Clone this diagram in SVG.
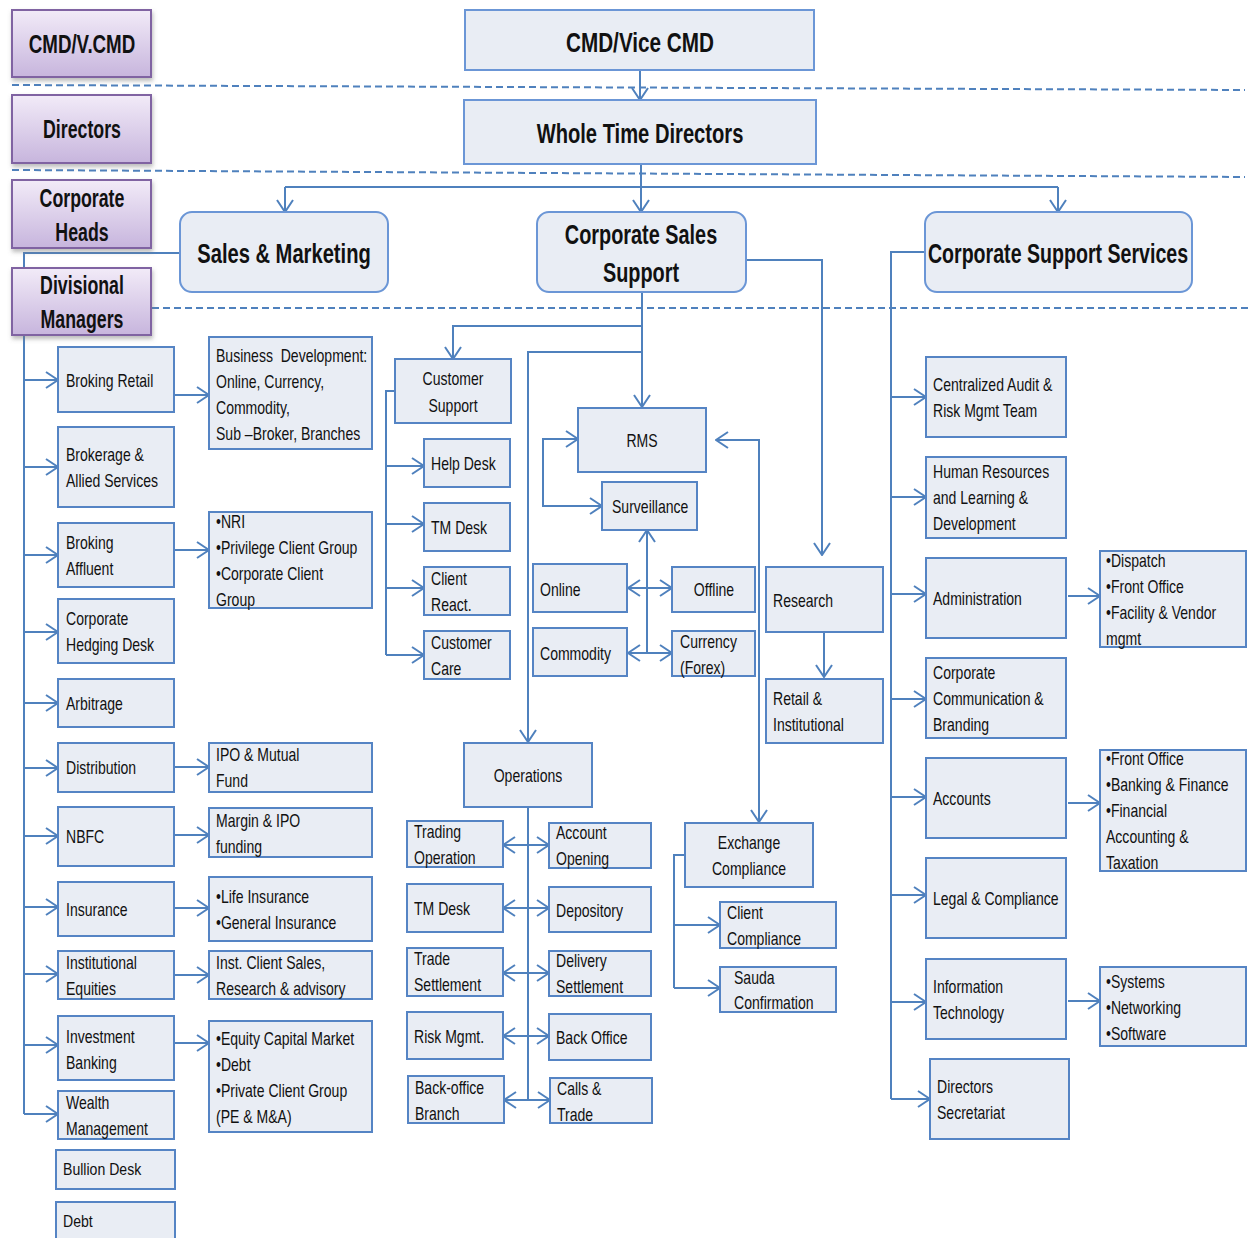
<svg xmlns="http://www.w3.org/2000/svg" width="1250" height="1238" viewBox="0 0 1250 1238">
<style>
.box{fill:#e9edf4;stroke:#5584c4;stroke-width:2}
.hdr{fill:#e9edf4;stroke:#6b96d6;stroke-width:2}
.pur{fill:url(#pg);stroke:#8064a2;stroke-width:2;filter:url(#sh)}
.c{fill:none;stroke:#4f81bd;stroke-width:2}
.a{marker-end:url(#ar)}
.b{marker-start:url(#ar);marker-end:url(#ar)}
.d{fill:none;stroke:#4f81bd;stroke-width:2;stroke-dasharray:7 4}
text{font-family:"Liberation Sans",Arial,sans-serif;fill:#111}
.t{font-size:18px}
.ts{font-size:16px}
.tb{font-size:28px;font-weight:bold}
.tp{font-size:25px;font-weight:bold}
.m{text-anchor:middle}
</style>
<defs>
<linearGradient id="pg" x1="0" y1="0" x2="0" y2="1">
<stop offset="0" stop-color="#f2ebf8"/>
<stop offset="1" stop-color="#c7b5dd"/>
</linearGradient>
<filter id="sh" x="-10%" y="-10%" width="130%" height="140%">
<feDropShadow dx="1" dy="3" stdDeviation="2" flood-color="#777" flood-opacity="0.5"/>
</filter>
<marker id="ar" markerUnits="userSpaceOnUse" markerWidth="14" markerHeight="20" viewBox="0 0 14 20" refX="13" refY="10" orient="auto-start-reverse">
<path d="M1,2 L13,10 L1,18" fill="none" stroke="#4f81bd" stroke-width="2"/>
</marker>
</defs>
<rect width="1250" height="1238" fill="#fff"/>

<g id="separators">
<path class="d" d="M12,85 L1245,90"/>
<path class="d" d="M12,170 L1245,177"/>
<path class="d" d="M152,308 L1250,308"/>
</g>

<g id="connectors">
<path class="c a" d="M640,70 V100"/>
<path class="c" d="M641,164 V187 M285,187 H1058"/>
<path class="c a" d="M285,187 V212"/>
<path class="c a" d="M641,187 V212"/>
<path class="c a" d="M1058,187 V212"/>
<path class="c" d="M180,253 H24 V1114"/>
<path class="c a" d="M24,380 H58"/>
<path class="c a" d="M24,467 H58"/>
<path class="c a" d="M24,555 H58"/>
<path class="c a" d="M24,632 H58"/>
<path class="c a" d="M24,703 H58"/>
<path class="c a" d="M24,768 H58"/>
<path class="c a" d="M24,836 H58"/>
<path class="c a" d="M24,907 H58"/>
<path class="c a" d="M24,974 H58"/>
<path class="c a" d="M24,1045 H58"/>
<path class="c a" d="M24,1114 H58"/>
<path class="c a" d="M174,395 H209"/>
<path class="c a" d="M174,550 H209"/>
<path class="c a" d="M174,767 H209"/>
<path class="c a" d="M174,835 H209"/>
<path class="c a" d="M174,908 H209"/>
<path class="c a" d="M174,975 H209"/>
<path class="c a" d="M174,1043 H209"/>
<path class="c a" d="M642,292 V407"/>
<path class="c a" d="M642,326 H453 V359"/>
<path class="c a" d="M642,352 H528 V742"/>
<path class="c" d="M395,391 H386 V655"/>
<path class="c a" d="M386,466 H424"/>
<path class="c a" d="M386,524 H424"/>
<path class="c a" d="M386,588 H424"/>
<path class="c a" d="M386,655 H424"/>
<path class="c b" d="M578,439 H543 V506 H602"/>
<path class="c" d="M647,530 V653" style="marker-start:url(#ar)"/>
<path class="c b" d="M628,588 H672"/>
<path class="c b" d="M628,653 H672"/>
<path class="c b" d="M716,440 H759 V822"/>
<path class="c a" d="M746,260 H822 V555"/>
<path class="c a" d="M824,632 V677"/>
<path class="c" d="M528,807 V1100"/>
<path class="c b" d="M503,845 H549"/>
<path class="c b" d="M503,908 H549"/>
<path class="c b" d="M503,973 H549"/>
<path class="c b" d="M503,1036 H549"/>
<path class="c b" d="M504,1100 H550"/>
<path class="c" d="M685,855 H674 V988"/>
<path class="c a" d="M674,925 H720"/>
<path class="c a" d="M674,988 H720"/>
<path class="c" d="M925,252 H891 V1099"/>
<path class="c a" d="M891,397 H926"/>
<path class="c a" d="M891,497 H926"/>
<path class="c a" d="M891,594 H926"/>
<path class="c a" d="M891,699 H926"/>
<path class="c a" d="M891,797 H926"/>
<path class="c a" d="M891,895 H926"/>
<path class="c a" d="M891,1002 H926"/>
<path class="c a" d="M891,1099 H930"/>
<path class="c a" d="M1068,596 H1100"/>
<path class="c a" d="M1068,803 H1100"/>
<path class="c a" d="M1068,1001 H1100"/>
</g>

<g id="p-cmd"><rect class="pur" x="12" y="10" width="139" height="67"/><text class="tp m" transform="translate(82,0) scale(.75,1)"><tspan x="0" y="53">CMD/V.CMD</tspan></text></g>
<g id="p-directors"><rect class="pur" x="12" y="95" width="139" height="68"/><text class="tp m" transform="translate(82,0) scale(.71,1)"><tspan x="0" y="138">Directors</tspan></text></g>
<g id="p-corpheads"><rect class="pur" x="12" y="180" width="139" height="68"/><text class="tp m" transform="translate(82,0) scale(.71,1)"><tspan x="0" y="207">Corporate</tspan><tspan x="0" y="241">Heads</tspan></text></g>
<g id="p-divmgr"><rect class="pur" x="12" y="268" width="139" height="67"/><text class="tp m" transform="translate(82,0) scale(.71,1)"><tspan x="0" y="294">Divisional</tspan><tspan x="0" y="328">Managers</tspan></text></g>

<g id="n-cmd"><rect class="hdr" x="465" y="10" width="349" height="60"/><text class="tb m" transform="translate(640,0) scale(.74,1)"><tspan x="0" y="52">CMD/Vice CMD</tspan></text></g>
<g id="n-wtd"><rect class="hdr" x="464" y="100" width="352" height="64"/><text class="tb m" transform="translate(640,0) scale(.72,1)"><tspan x="0" y="143">Whole Time Directors</tspan></text></g>
<g id="n-sm"><rect class="hdr" x="180" y="212" width="208" height="80" rx="12"/><text class="tb m" transform="translate(284,0) scale(.72,1)"><tspan x="0" y="263">Sales &amp; Marketing</tspan></text></g>
<g id="n-css"><rect class="hdr" x="537" y="212" width="209" height="80" rx="12"/><text class="tb m" transform="translate(641,0) scale(.71,1)"><tspan x="0" y="244">Corporate Sales</tspan><tspan x="0" y="282">Support</tspan></text></g>
<g id="n-csups"><rect class="hdr" x="925" y="212" width="267" height="80" rx="12"/><text class="tb m" transform="translate(1058,0) scale(.70,1)"><tspan x="0" y="263">Corporate Support Services</tspan></text></g>

<g id="n-broking-retail"><rect class="box" x="58" y="347" width="116" height="65"/><text class="t" transform="translate(66,0) scale(.78,1)"><tspan x="0" y="387">Broking Retail</tspan></text></g>
<g id="n-bizdev"><rect class="box" x="209" y="337" width="163" height="112"/><text class="t" transform="translate(216,0) scale(.78,1)"><tspan x="0" y="362">Business&#160; Development:</tspan><tspan x="0" y="388">Online, Currency,</tspan><tspan x="0" y="414">Commodity,</tspan><tspan x="0" y="440">Sub –Broker, Branches</tspan></text></g>
<g id="n-brokerage"><rect class="box" x="58" y="427" width="116" height="80"/><text class="t" transform="translate(66,0) scale(.78,1)"><tspan x="0" y="461">Brokerage &amp;</tspan><tspan x="0" y="487">Allied Services</tspan></text></g>
<g id="n-affluent"><rect class="box" x="58" y="523" width="116" height="64"/><text class="t" transform="translate(66,0) scale(.78,1)"><tspan x="0" y="549">Broking</tspan><tspan x="0" y="575">Affluent</tspan></text></g>
<g id="n-nri"><rect class="box" x="209" y="512" width="163" height="96"/><text class="t" transform="translate(216,0) scale(.78,1)"><tspan x="0" y="528">•NRI</tspan><tspan x="0" y="554">•Privilege Client Group</tspan><tspan x="0" y="580">•Corporate Client</tspan><tspan x="0" y="606">Group</tspan></text></g>
<g id="n-hedging"><rect class="box" x="58" y="599" width="116" height="64"/><text class="t" transform="translate(66,0) scale(.78,1)"><tspan x="0" y="625">Corporate</tspan><tspan x="0" y="651">Hedging Desk</tspan></text></g>
<g id="n-arbitrage"><rect class="box" x="58" y="679" width="116" height="48"/><text class="t" transform="translate(66,0) scale(.78,1)"><tspan x="0" y="710">Arbitrage</tspan></text></g>
<g id="n-distribution"><rect class="box" x="58" y="743" width="116" height="49"/><text class="t" transform="translate(66,0) scale(.78,1)"><tspan x="0" y="774">Distribution</tspan></text></g>
<g id="n-ipo"><rect class="box" x="209" y="743" width="163" height="49"/><text class="t" transform="translate(216,0) scale(.78,1)"><tspan x="0" y="761">IPO &amp; Mutual</tspan><tspan x="0" y="787">Fund</tspan></text></g>
<g id="n-nbfc"><rect class="box" x="58" y="807" width="116" height="59"/><text class="t" transform="translate(66,0) scale(.78,1)"><tspan x="0" y="843">NBFC</tspan></text></g>
<g id="n-margin"><rect class="box" x="209" y="808" width="163" height="49"/><text class="t" transform="translate(216,0) scale(.78,1)"><tspan x="0" y="827">Margin &amp; IPO</tspan><tspan x="0" y="853">funding</tspan></text></g>
<g id="n-insurance"><rect class="box" x="58" y="882" width="116" height="54"/><text class="t" transform="translate(66,0) scale(.78,1)"><tspan x="0" y="916">Insurance</tspan></text></g>
<g id="n-life"><rect class="box" x="209" y="877" width="163" height="64"/><text class="t" transform="translate(216,0) scale(.78,1)"><tspan x="0" y="903">•Life Insurance</tspan><tspan x="0" y="929">•General Insurance</tspan></text></g>
<g id="n-insteq"><rect class="box" x="58" y="951" width="116" height="48"/><text class="t" transform="translate(66,0) scale(.78,1)"><tspan x="0" y="969">Institutional</tspan><tspan x="0" y="995">Equities</tspan></text></g>
<g id="n-instclient"><rect class="box" x="209" y="951" width="163" height="48"/><text class="t" transform="translate(216,0) scale(.78,1)"><tspan x="0" y="969">Inst. Client Sales,</tspan><tspan x="0" y="995">Research &amp; advisory</tspan></text></g>
<g id="n-ib"><rect class="box" x="58" y="1016" width="116" height="64"/><text class="t" transform="translate(66,0) scale(.78,1)"><tspan x="0" y="1043">Investment</tspan><tspan x="0" y="1069">Banking</tspan></text></g>
<g id="n-ecm"><rect class="box" x="209" y="1021" width="163" height="111"/><text class="t" transform="translate(216,0) scale(.78,1)"><tspan x="0" y="1045">•Equity Capital Market</tspan><tspan x="0" y="1071">•Debt</tspan><tspan x="0" y="1097">•Private Client Group</tspan><tspan x="0" y="1123">(PE &amp; M&amp;A)</tspan></text></g>
<g id="n-wealth"><rect class="box" x="58" y="1091" width="116" height="48"/><text class="t" transform="translate(66,0) scale(.78,1)"><tspan x="0" y="1109">Wealth</tspan><tspan x="0" y="1135">Management</tspan></text></g>
<g id="n-bullion"><rect class="box" x="56" y="1150" width="119" height="39"/><text class="ts" transform="translate(63,0) scale(.88,1)"><tspan x="0" y="1175">Bullion Desk</tspan></text></g>
<g id="n-debt"><rect class="box" x="56" y="1202" width="119" height="44"/><text class="ts" transform="translate(63,0) scale(.88,1)"><tspan x="0" y="1227">Debt</tspan></text></g>

<g id="n-custsupport"><rect class="box" x="395" y="359" width="116" height="64"/><text class="t m" transform="translate(453,0) scale(.78,1)"><tspan x="0" y="385">Customer</tspan><tspan x="0" y="412">Support</tspan></text></g>
<g id="n-helpdesk"><rect class="box" x="424" y="439" width="86" height="48"/><text class="t" transform="translate(431,0) scale(.78,1)"><tspan x="0" y="470">Help Desk</tspan></text></g>
<g id="n-tmdesk1"><rect class="box" x="424" y="503" width="86" height="48"/><text class="t" transform="translate(431,0) scale(.78,1)"><tspan x="0" y="534">TM Desk</tspan></text></g>
<g id="n-clientreact"><rect class="box" x="424" y="567" width="86" height="48"/><text class="t" transform="translate(431,0) scale(.78,1)"><tspan x="0" y="585">Client</tspan><tspan x="0" y="611">React.</tspan></text></g>
<g id="n-custcare"><rect class="box" x="424" y="631" width="86" height="48"/><text class="t" transform="translate(431,0) scale(.78,1)"><tspan x="0" y="649">Customer</tspan><tspan x="0" y="675">Care</tspan></text></g>

<g id="n-rms"><rect class="box" x="578" y="408" width="128" height="64"/><text class="t m" transform="translate(642,0) scale(.78,1)"><tspan x="0" y="447">RMS</tspan></text></g>
<g id="n-surveillance"><rect class="box" x="602" y="482" width="95" height="48"/><text class="t" transform="translate(612,0) scale(.78,1)"><tspan x="0" y="513">Surveillance</tspan></text></g>
<g id="n-online"><rect class="box" x="533" y="564" width="94" height="48"/><text class="t" transform="translate(540,0) scale(.78,1)"><tspan x="0" y="596">Online</tspan></text></g>
<g id="n-offline"><rect class="box" x="672" y="567" width="83" height="45"/><text class="t m" transform="translate(714,0) scale(.78,1)"><tspan x="0" y="596">Offline</tspan></text></g>
<g id="n-commodity"><rect class="box" x="533" y="628" width="94" height="48"/><text class="t" transform="translate(540,0) scale(.78,1)"><tspan x="0" y="660">Commodity</tspan></text></g>
<g id="n-currency"><rect class="box" x="672" y="631" width="83" height="45"/><text class="t" transform="translate(680,0) scale(.78,1)"><tspan x="0" y="648">Currency</tspan><tspan x="0" y="674">(Forex)</tspan></text></g>

<g id="n-research"><rect class="box" x="766" y="567" width="117" height="65"/><text class="t" transform="translate(773,0) scale(.78,1)"><tspan x="0" y="607">Research</tspan></text></g>
<g id="n-retail"><rect class="box" x="766" y="679" width="117" height="64"/><text class="t" transform="translate(773,0) scale(.78,1)"><tspan x="0" y="705">Retail &amp;</tspan><tspan x="0" y="731">Institutional</tspan></text></g>

<g id="n-operations"><rect class="box" x="464" y="743" width="128" height="64"/><text class="t m" transform="translate(528,0) scale(.78,1)"><tspan x="0" y="782">Operations</tspan></text></g>
<g id="n-trading"><rect class="box" x="407" y="821" width="96" height="46"/><text class="t" transform="translate(414,0) scale(.78,1)"><tspan x="0" y="838">Trading</tspan><tspan x="0" y="864">Operation</tspan></text></g>
<g id="n-account"><rect class="box" x="549" y="823" width="102" height="45"/><text class="t" transform="translate(556,0) scale(.78,1)"><tspan x="0" y="839">Account</tspan><tspan x="0" y="865">Opening</tspan></text></g>
<g id="n-tmdesk2"><rect class="box" x="407" y="884" width="96" height="48"/><text class="t" transform="translate(414,0) scale(.78,1)"><tspan x="0" y="915">TM Desk</tspan></text></g>
<g id="n-depository"><rect class="box" x="549" y="887" width="102" height="45"/><text class="t" transform="translate(556,0) scale(.78,1)"><tspan x="0" y="917">Depository</tspan></text></g>
<g id="n-tradesettle"><rect class="box" x="407" y="948" width="96" height="48"/><text class="t" transform="translate(414,0) scale(.78,1)"><tspan x="0" y="965">Trade</tspan><tspan x="0" y="991">Settlement</tspan></text></g>
<g id="n-delivery"><rect class="box" x="549" y="951" width="102" height="45"/><text class="t" transform="translate(556,0) scale(.78,1)"><tspan x="0" y="967">Delivery</tspan><tspan x="0" y="993">Settlement</tspan></text></g>
<g id="n-riskmgmt"><rect class="box" x="407" y="1012" width="96" height="47"/><text class="t" transform="translate(414,0) scale(.78,1)"><tspan x="0" y="1043">Risk Mgmt.</tspan></text></g>
<g id="n-backoffice"><rect class="box" x="549" y="1014" width="102" height="46"/><text class="t" transform="translate(556,0) scale(.78,1)"><tspan x="0" y="1044">Back Office</tspan></text></g>
<g id="n-bobranch"><rect class="box" x="408" y="1076" width="96" height="47"/><text class="t" transform="translate(415,0) scale(.78,1)"><tspan x="0" y="1094">Back-office</tspan><tspan x="0" y="1120">Branch</tspan></text></g>
<g id="n-calls"><rect class="box" x="550" y="1078" width="102" height="45"/><text class="t" transform="translate(557,0) scale(.78,1)"><tspan x="0" y="1095">Calls &amp;</tspan><tspan x="0" y="1121">Trade</tspan></text></g>

<g id="n-exchange"><rect class="box" x="685" y="823" width="128" height="64"/><text class="t m" transform="translate(749,0) scale(.78,1)"><tspan x="0" y="849">Exchange</tspan><tspan x="0" y="875">Compliance</tspan></text></g>
<g id="n-clientcomp"><rect class="box" x="720" y="902" width="116" height="46"/><text class="t" transform="translate(727,0) scale(.78,1)"><tspan x="0" y="919">Client</tspan><tspan x="0" y="945">Compliance</tspan></text></g>
<g id="n-sauda"><rect class="box" x="720" y="967" width="116" height="45"/><text class="t" transform="translate(734,0) scale(.78,1)"><tspan x="0" y="984">Sauda</tspan><tspan x="0" y="1009">Confirmation</tspan></text></g>

<g id="n-audit"><rect class="box" x="926" y="357" width="140" height="80"/><text class="t" transform="translate(933,0) scale(.78,1)"><tspan x="0" y="391">Centralized Audit &amp;</tspan><tspan x="0" y="417">Risk Mgmt Team</tspan></text></g>
<g id="n-hr"><rect class="box" x="926" y="457" width="140" height="81"/><text class="t" transform="translate(933,0) scale(.78,1)"><tspan x="0" y="478">Human Resources</tspan><tspan x="0" y="504">and Learning &amp;</tspan><tspan x="0" y="530">Development</tspan></text></g>
<g id="n-admin"><rect class="box" x="926" y="558" width="140" height="80"/><text class="t" transform="translate(933,0) scale(.78,1)"><tspan x="0" y="605">Administration</tspan></text></g>
<g id="n-dispatch"><rect class="box" x="1100" y="551" width="146" height="96"/><text class="t" transform="translate(1106,0) scale(.78,1)"><tspan x="0" y="567">•Dispatch</tspan><tspan x="0" y="593">•Front Office</tspan><tspan x="0" y="619">•Facility &amp; Vendor</tspan><tspan x="0" y="645">mgmt</tspan></text></g>
<g id="n-corpcomm"><rect class="box" x="926" y="658" width="140" height="80"/><text class="t" transform="translate(933,0) scale(.78,1)"><tspan x="0" y="679">Corporate</tspan><tspan x="0" y="705">Communication &amp;</tspan><tspan x="0" y="731">Branding</tspan></text></g>
<g id="n-accounts"><rect class="box" x="926" y="758" width="140" height="80"/><text class="t" transform="translate(933,0) scale(.78,1)"><tspan x="0" y="805">Accounts</tspan></text></g>
<g id="n-frontoffice"><rect class="box" x="1100" y="750" width="146" height="121"/><text class="t" transform="translate(1106,0) scale(.78,1)"><tspan x="0" y="765">•Front Office</tspan><tspan x="0" y="791">•Banking &amp; Finance</tspan><tspan x="0" y="817">•Financial</tspan><tspan x="0" y="843">Accounting &amp;</tspan><tspan x="0" y="869">Taxation</tspan></text></g>
<g id="n-legal"><rect class="box" x="926" y="858" width="140" height="80"/><text class="t" transform="translate(933,0) scale(.78,1)"><tspan x="0" y="905">Legal &amp; Compliance</tspan></text></g>
<g id="n-it"><rect class="box" x="926" y="959" width="140" height="80"/><text class="t" transform="translate(933,0) scale(.78,1)"><tspan x="0" y="993">Information</tspan><tspan x="0" y="1019">Technology</tspan></text></g>
<g id="n-systems"><rect class="box" x="1100" y="967" width="146" height="79"/><text class="t" transform="translate(1106,0) scale(.78,1)"><tspan x="0" y="988">•Systems</tspan><tspan x="0" y="1014">•Networking</tspan><tspan x="0" y="1040">•Software</tspan></text></g>
<g id="n-dirsec"><rect class="box" x="930" y="1059" width="139" height="80"/><text class="t" transform="translate(937,0) scale(.78,1)"><tspan x="0" y="1093">Directors</tspan><tspan x="0" y="1119">Secretariat</tspan></text></g>
</svg>
